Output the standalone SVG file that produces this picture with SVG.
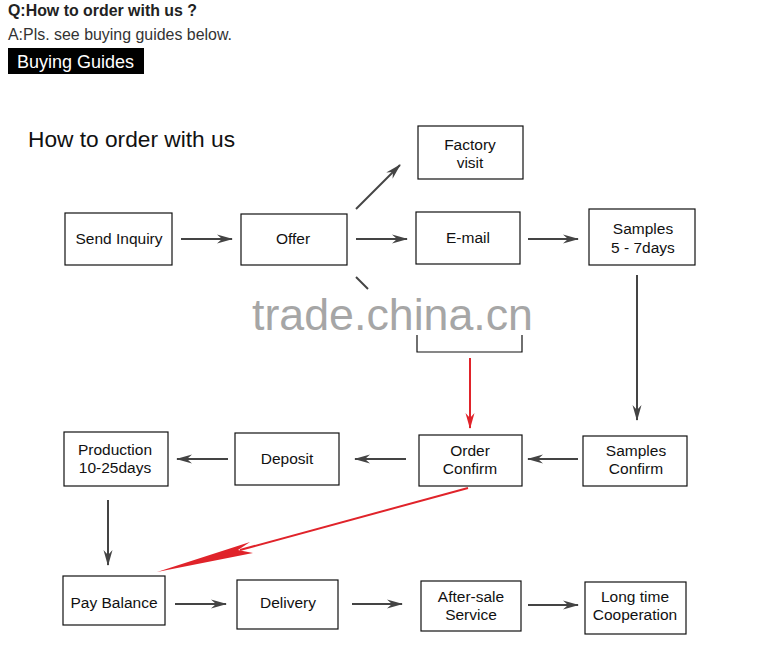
<svg xmlns="http://www.w3.org/2000/svg" width="783" height="659" viewBox="0 0 783 659">
<defs>
<style>
.box{fill:#fff;stroke:#111;stroke-width:1.2}
.t{font-family:"Liberation Sans",Arial,sans-serif;font-size:15.5px;fill:#111;text-anchor:middle}
.c{stroke:#444;stroke-width:2;fill:none}
.r{stroke:#e0232a;stroke-width:2;fill:none}
</style>
<marker id="ah" viewBox="0 0 16 10" refX="15" refY="5" markerWidth="16" markerHeight="10" markerUnits="userSpaceOnUse" orient="auto">
<path d="M0,0.5 L16,5 L0,9.5 L5,5 Z" fill="#444"/>
</marker>
<marker id="ahr" viewBox="0 0 16 10" refX="15" refY="5" markerWidth="16" markerHeight="10" markerUnits="userSpaceOnUse" orient="auto">
<path d="M0,0.5 L16,5 L0,9.5 L5,5 Z" fill="#e0232a"/>
</marker>
</defs>
<rect width="783" height="659" fill="#fff"/>
<text x="8" y="16" font-family="Liberation Sans,Arial,sans-serif" font-size="16" font-weight="bold" fill="#222" textLength="189" lengthAdjust="spacingAndGlyphs">Q:How to order with us ?</text>
<text x="8" y="40" font-family="Liberation Sans,Arial,sans-serif" font-size="16" fill="#333" textLength="224" lengthAdjust="spacingAndGlyphs">A:Pls. see buying guides below.</text>
<rect x="8" y="48" width="136" height="26" fill="#000"/>
<text x="17" y="68" font-family="Liberation Sans,Arial,sans-serif" font-size="17.5" fill="#fff" textLength="117" lengthAdjust="spacingAndGlyphs">Buying Guides</text>
<text x="28" y="147" font-family="Liberation Sans,Arial,sans-serif" font-size="22.5" fill="#111" textLength="207" lengthAdjust="spacingAndGlyphs">How to order with us</text>

<g id="connectors">
<line class="c" x1="181" y1="239" x2="232" y2="239" marker-end="url(#ah)"/>
<line class="c" x1="356" y1="239" x2="407" y2="239" marker-end="url(#ah)"/>
<line class="c" x1="356" y1="209" x2="400" y2="165" marker-end="url(#ah)"/>
<line class="c" x1="356" y1="277" x2="368" y2="289"/>
<line class="c" x1="528" y1="239" x2="578" y2="239" marker-end="url(#ah)"/>
<line class="c" x1="637" y1="275" x2="637" y2="420" marker-end="url(#ah)"/>
<line class="r" x1="470" y1="358" x2="470" y2="428" marker-end="url(#ahr)"/>
<line class="c" x1="578" y1="459" x2="528" y2="459" marker-end="url(#ah)"/>
<line class="c" x1="406" y1="459" x2="355" y2="459" marker-end="url(#ah)"/>
<line class="c" x1="228" y1="459" x2="177" y2="459" marker-end="url(#ah)"/>
<line class="c" x1="108" y1="500" x2="108" y2="565" marker-end="url(#ah)"/>
<line class="r" x1="468" y1="488" x2="240" y2="550"/>
<polygon points="157,572 250,542 238,550 253,553" fill="#e0232a"/>
<line class="c" x1="175" y1="604" x2="226" y2="604" marker-end="url(#ah)"/>
<line class="c" x1="352" y1="604" x2="402" y2="604" marker-end="url(#ah)"/>
<line class="c" x1="528" y1="605" x2="578" y2="605" marker-end="url(#ah)"/>
</g>

<g id="send-inquiry"><rect class="box" x="65" y="213" width="107" height="52"/><text class="t" x="119" y="244">Send Inquiry</text></g>
<g id="offer"><rect class="box" x="241" y="214" width="106" height="51"/><text class="t" x="293" y="244">Offer</text></g>
<g id="factory-visit"><rect class="box" x="418" y="126" width="105" height="53"/><text class="t" x="470" y="150">Factory</text><text class="t" x="470" y="168">visit</text></g>
<g id="e-mail"><rect class="box" x="416" y="212" width="104" height="52"/><text class="t" x="468" y="243">E-mail</text></g>
<g id="samples-days"><rect class="box" x="589" y="209" width="106" height="56"/><text class="t" x="643" y="234">Samples</text><text class="t" x="643" y="253">5 - 7days</text></g>
<g id="hidden-node"><path class="box" d="M417,335 L417,352 L522,352 L522,335" fill="none"/></g>
<g id="production"><rect class="box" x="64" y="432" width="104" height="54"/><text class="t" x="115" y="455">Production</text><text class="t" x="115" y="473">10-25days</text></g>
<g id="deposit"><rect class="box" x="235" y="433" width="104" height="52"/><text class="t" x="287" y="464">Deposit</text></g>
<g id="order-confirm"><rect class="box" x="419" y="435" width="103" height="51"/><text class="t" x="470" y="456">Order</text><text class="t" x="470" y="474">Confirm</text></g>
<g id="samples-confirm"><rect class="box" x="583" y="436" width="104" height="50"/><text class="t" x="636" y="456">Samples</text><text class="t" x="636" y="474">Confirm</text></g>
<g id="pay-balance"><rect class="box" x="63" y="576" width="102" height="49"/><text class="t" x="114" y="608">Pay Balance</text></g>
<g id="delivery"><rect class="box" x="237" y="580" width="101" height="49"/><text class="t" x="288" y="608">Delivery</text></g>
<g id="after-sale"><rect class="box" x="421" y="581" width="100" height="50"/><text class="t" x="471" y="602">After-sale</text><text class="t" x="471" y="620">Service</text></g>
<g id="long-time"><rect class="box" x="585" y="582" width="101" height="52"/><text class="t" x="635" y="602">Long time</text><text class="t" x="635" y="620">Cooperation</text></g>

<text x="252" y="330" font-family="Liberation Sans,Arial,sans-serif" font-size="44" fill="#a6a6a6" textLength="281" lengthAdjust="spacingAndGlyphs">trade.china.cn</text>
</svg>
